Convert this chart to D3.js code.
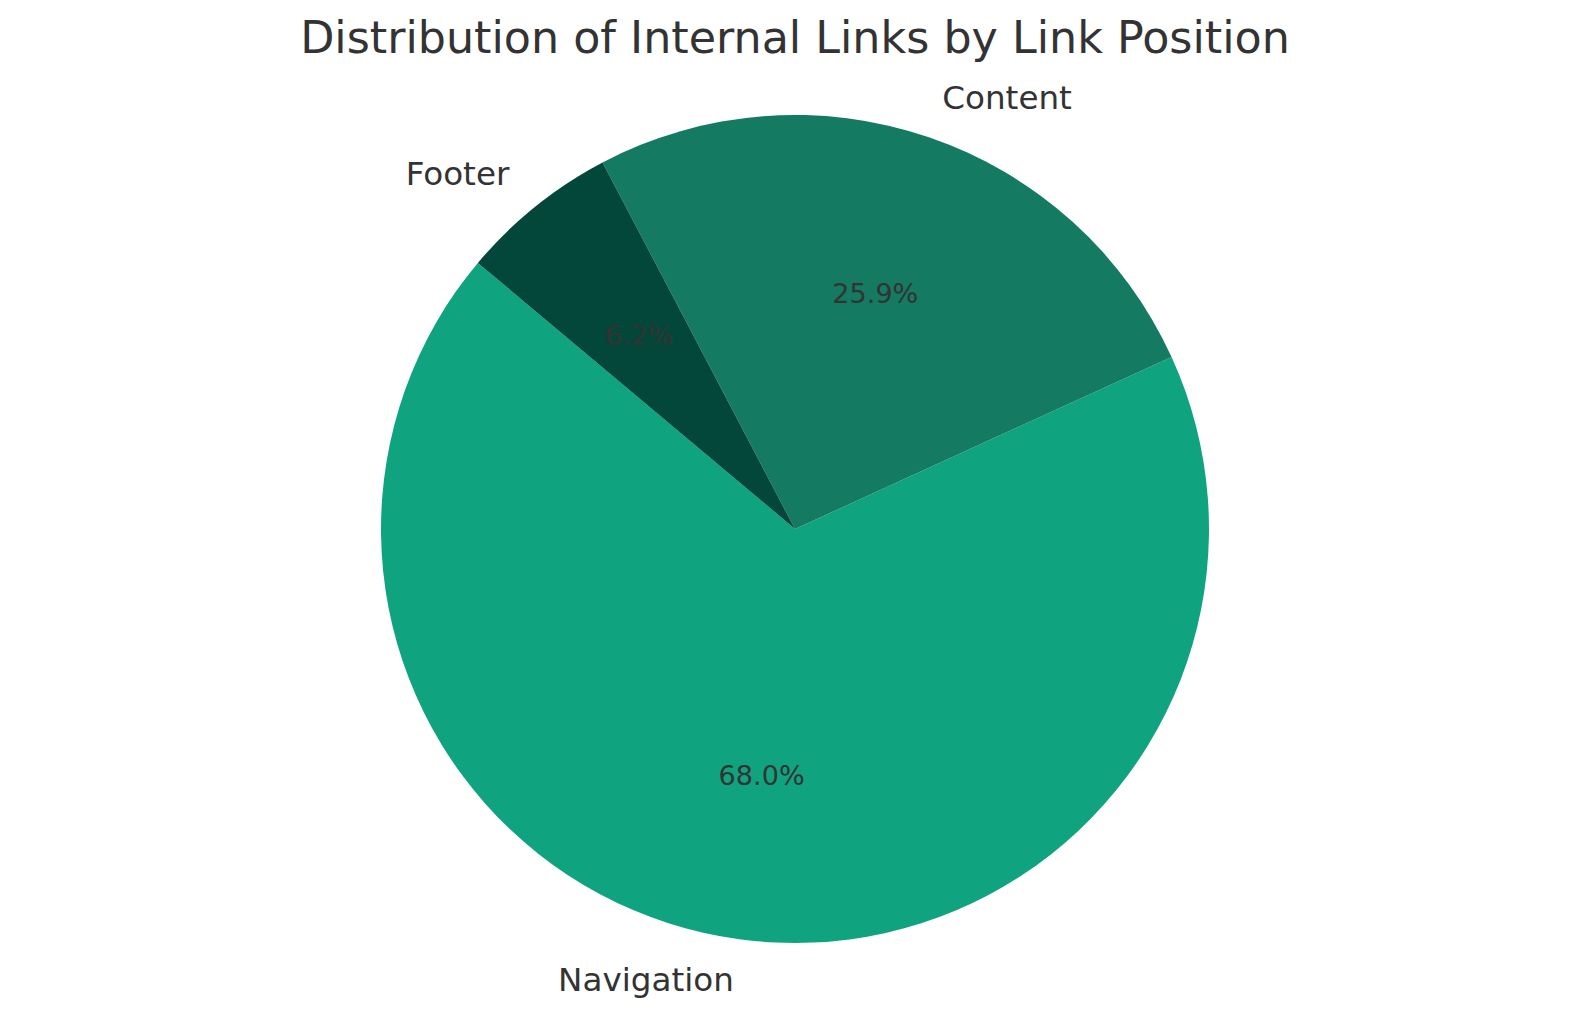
<!DOCTYPE html>
<html>
<head>
<meta charset="utf-8">
<script src="https://cdn.jsdelivr.net/npm/d3@7"></script>
<style>
  body { margin: 0; background: #fff; }
  text { font-family: "DejaVu Sans", sans-serif; fill: #333333; }
</style>
</head>
<body>
<div id="chart"></div>
<script>
/* DATA */
const categories = ["Navigation", "Content", "Footer"];
const shares = [68.0, 25.9, 6.2];
const colors = ["#10a37f", "#147a62", "#03473a"];

/* LAYOUT */
const width = 1589,
  height = 1020,
  cx = 795,
  cy = 529,
  radius = 414,
  startDeg = 140; // counter-clockwise start, measured from 3 o'clock

const data = categories.map((c, i) => ({ label: c, value: shares[i], color: colors[i] }));

const svg = d3.select("#chart")
  .append("svg")
  .attr("width", width)
  .attr("height", height);

svg.append("text")
  .attr("x", cx)
  .attr("y", 53)
  .attr("text-anchor", "middle")
  .attr("font-size", 44.4)
  .text("Distribution of Internal Links by Link Position");

// d3 angles run clockwise from 12 o'clock; the reference goes counter-clockwise from 140deg
const toRad = deg => deg * Math.PI / 180;
const pie = d3.pie()
  .value(d => d.value)
  .sort(null)
  .startAngle(toRad(90 - startDeg))
  .endAngle(toRad(90 - startDeg - 360));

const arcs = pie(data);
const arc = d3.arc().innerRadius(0).outerRadius(radius);

const g = svg.append("g").attr("transform", `translate(${cx},${cy})`);

g.selectAll("path.slice")
  .data(arcs)
  .join("path")
  .attr("class", "slice")
  .attr("d", arc)
  .attr("fill", d => d.data.color);

const mid = d => (d.startAngle + d.endAngle) / 2;

// percentage labels at 0.6 r
g.selectAll("text.pct")
  .data(arcs)
  .join("text")
  .attr("class", "pct")
  .attr("x", d => Math.sin(mid(d)) * radius * 0.6)
  .attr("y", d => -Math.cos(mid(d)) * radius * 0.6)
  .attr("text-anchor", "middle")
  .attr("dominant-baseline", "central")
  .attr("font-size", 27.1)
  .text(d => d.data.value.toFixed(1) + "%");

// category labels at 1.1 r
g.selectAll("text.lbl")
  .data(arcs)
  .join("text")
  .attr("class", "lbl")
  .attr("x", d => Math.sin(mid(d)) * radius * 1.1)
  .attr("y", d => -Math.cos(mid(d)) * radius * 1.1)
  .attr("text-anchor", d => Math.sin(mid(d)) < 0 ? "end" : "start")
  .attr("dominant-baseline", "central")
  .attr("font-size", 32.6)
  .text(d => d.data.label);
</script>
</body>
</html>
